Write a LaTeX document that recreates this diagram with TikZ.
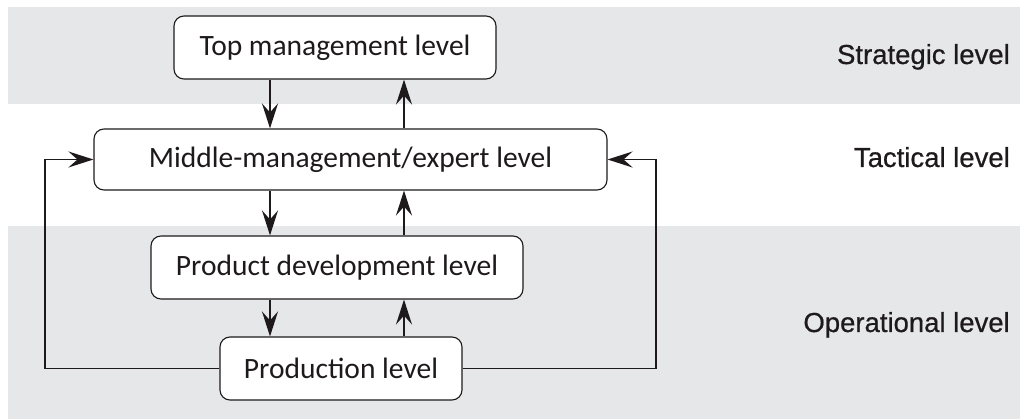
\documentclass[tikz,border=0pt]{standalone}
\usepackage{fontspec}
\setmainfont{Carlito}
\newfontfamily\labelfont[FakeBold=0.6]{Liberation Sans}
\usetikzlibrary{arrows.meta}
\definecolor{band}{HTML}{E6E7E8}
\definecolor{ink}{HTML}{1E1A1B}
\tikzset{
  lvlbox/.style={draw=ink, line width=1.1pt, rounded corners=10pt, fill=white,
    inner sep=0pt, text=ink, font=\fontsize{29.5}{32}\selectfont},
  arr/.style={draw=ink, line width=1.8pt, -{Stealth[length=25pt,width=16pt,inset=9pt]}},
  lvllabel/.style={anchor=base east, inner sep=0pt, text=ink, font=\labelfont\fontsize{27.5}{29}\selectfont}
}
\begin{document}
\begin{tikzpicture}[x=1pt,y=-1pt]
\useasboundingbox (0,0) rectangle (1020,419);
\fill[band] (8,7) rectangle (1020,104);
\fill[band] (8,226) rectangle (1020,419);

\node[lvlbox, minimum width=322pt, minimum height=63pt] (top) at (335,47.5) {Top management level};
\node[lvlbox, minimum width=513pt, minimum height=61pt] (mid) at (350.5,159.5) {Middle-management/expert level};
\node[lvlbox, minimum width=372pt, minimum height=63pt] (pdev) at (337,267.5) {Product development level};
\node[lvlbox, minimum width=242pt, minimum height=63pt] (prod) at (341,368.5) {Production level};

\node[lvllabel] (strat) at (1010,64) {Strategic level};
\node[lvllabel] (tact) at (1010,167) {Tactical level};
\node[lvllabel] (oper) at (1010,332) {Operational level};

\coordinate (xd) at (270,0);
\coordinate (xu) at (404,0);
\coordinate (lc) at (45,0);
\coordinate (rc) at (656,0);

\draw[arr] (top.south -| xd) -- (mid.north -| xd);
\draw[arr] (mid.north -| xu) -- (top.south -| xu);
\draw[arr] (mid.south -| xd) -- (pdev.north -| xd);
\draw[arr] (pdev.north -| xu) -- (mid.south -| xu);
\draw[arr] (pdev.south -| xd) -- (prod.north -| xd);
\draw[arr] (prod.north -| xu) -- (pdev.south -| xu);

\draw[arr] (prod.west) -- (prod.west -| lc) -- (lc |- mid.west) -- (mid.west);
\draw[arr] (prod.east) -- (prod.east -| rc) -- (rc |- mid.east) -- (mid.east);
\end{tikzpicture}
\end{document}
